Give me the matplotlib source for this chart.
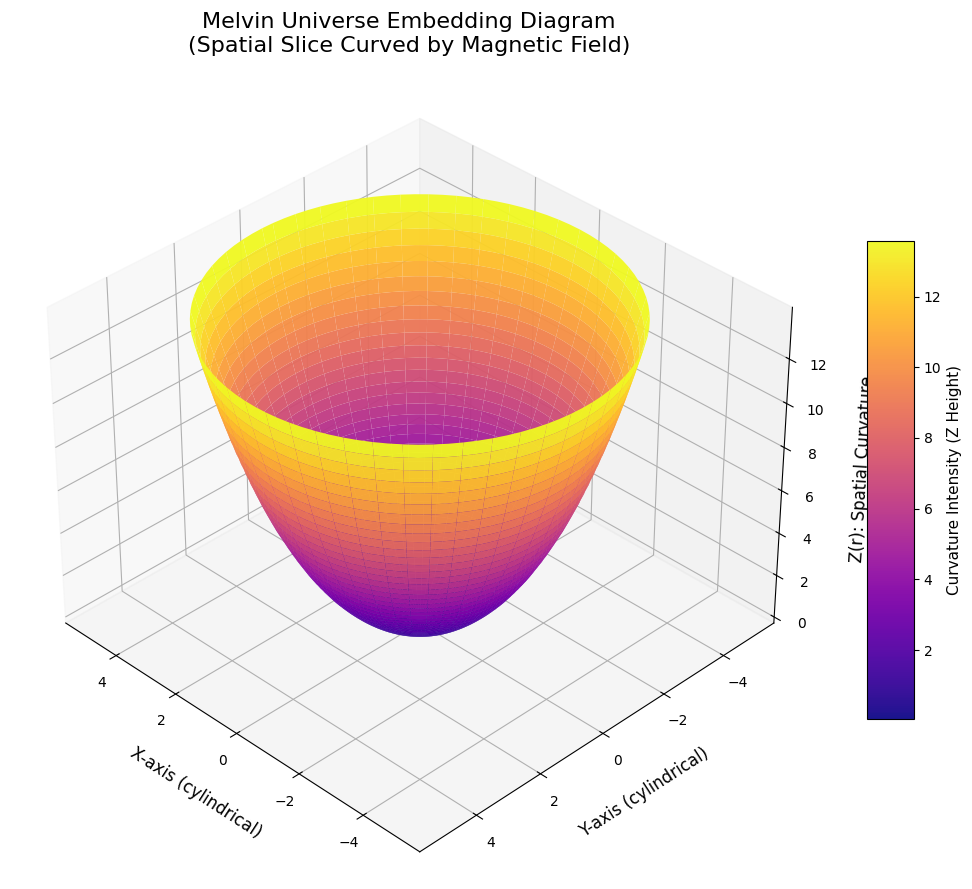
"""Melvin universe embedding diagram drawn as a 3D surface of revolution"""

import numpy as np
import matplotlib
matplotlib.use('Agg')
import matplotlib.pyplot as plt

# radial profile of the embedded slice
radius = [0.0, 0.1, 0.2, 0.3, 0.4, 0.5, 0.6, 0.7, 0.8, 0.9, 1.0,
          1.1, 1.2, 1.3, 1.4, 1.5, 1.6, 1.7, 1.8, 1.9, 2.0,
          2.1, 2.2, 2.3, 2.4, 2.5, 2.6, 2.7, 2.8, 2.9, 3.0,
          3.1, 3.2, 3.3, 3.4, 3.5, 3.6, 3.7, 3.8, 3.9, 4.0,
          4.1, 4.2, 4.3, 4.4, 4.5, 4.6, 4.7, 4.8, 4.9, 5.0]
height = [0.0, 0.00, 0.02, 0.04, 0.07, 0.10, 0.15, 0.20, 0.27, 0.35, 0.43,
          0.51, 0.61, 0.73, 0.84, 0.97, 1.11, 1.26, 1.42, 1.59, 1.77,
          1.96, 2.16, 2.37, 2.60, 2.84, 3.09, 3.35, 3.63, 3.93, 4.23,
          4.55, 4.89, 5.24, 5.59, 5.98, 6.38, 6.79, 7.23, 7.68, 8.15,
          8.64, 9.14, 9.67, 10.23, 10.80, 11.39, 12.01, 12.65, 13.31, 14.00]
z_ticks = [0, 2, 4, 6, 8, 10, 12]

r = np.array(radius)
z = np.array(height)
theta = np.linspace(0, 2 * np.pi, 100)

X = np.outer(r, np.cos(theta))
Y = np.outer(r, np.sin(theta))
Z = np.outer(z, np.ones_like(theta))

W, H = 972, 889
fig = plt.figure(figsize=(W / 100, H / 100), dpi=100)

#=== main axes, placed in pixels ===
side = 798
cx, cy = 409, 480
ax = fig.add_axes([(cx - side / 2) / W, 1 - (cy + side / 2) / H, side / W, side / H],
                  projection='3d')

surf = ax.plot_surface(X, Y, Z, cmap='plasma', edgecolor='none', alpha=0.95,
                       rcount=51, ccount=50, vmin=0.05, vmax=13.57)
ax.view_init(elev=35, azim=135)
ax.set_zticks(z_ticks)

ax.set_xlabel('X-axis (cylindrical)', fontsize=12, labelpad=12)
ax.set_ylabel('Y-axis (cylindrical)', fontsize=12, labelpad=12)
ax.set_zlabel('Z(r): Spatial Curvature', fontsize=12, labelpad=12)
fig.text(409 / W, 1 - 34 / H, 'Melvin Universe Embedding Diagram\n(Spatial Slice Curved by Magnetic Field)',
         fontsize=16, ha='center', va='center', linespacing=1.3)

cax = fig.add_axes([867 / W, 1 - 719 / H, 47 / W, 478 / H])
cbar = fig.colorbar(surf, cax=cax)
cbar.set_label('Curvature Intensity (Z Height)', fontsize=11)

fig.savefig('out.png', dpi=100)
